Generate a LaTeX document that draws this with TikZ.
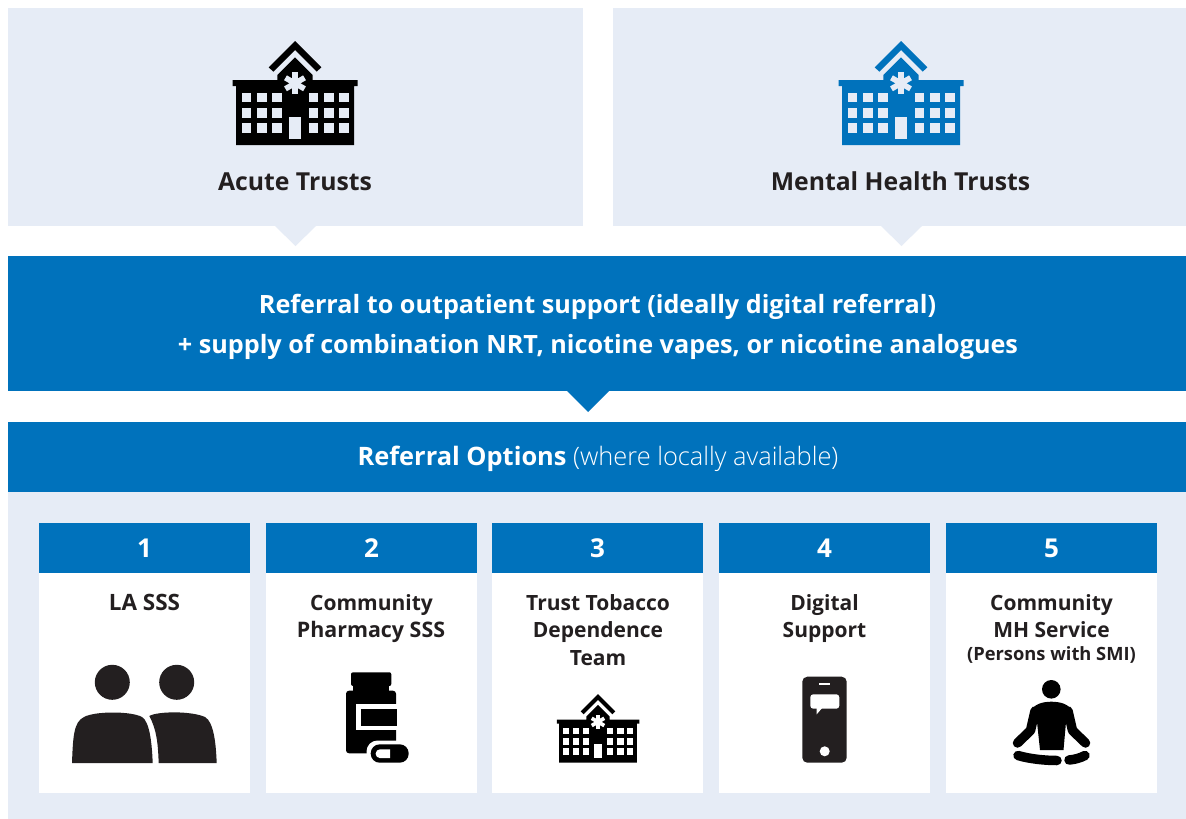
\documentclass[tikz,border=0pt]{standalone}
\usepackage{fontspec}
\setmainfont{Open Sans}
\newfontfamily\lightf{Open Sans Light}
\definecolor{lightbg}{HTML}{E6ECF6}
\definecolor{nhsblue}{HTML}{0072BC}
\definecolor{ink}{HTML}{231F20}
\tikzset{
  panel/.style={fill=#1,inner sep=0pt,outer sep=0pt,anchor=north west},
  lab/.style={anchor=base,inner sep=0pt,text=ink,font=\bfseries\fontsize{#1}{#1}\selectfont},
  wlab/.style={anchor=base,inner sep=0pt,text=white,font=\bfseries\fontsize{#1}{#1}\selectfont},
  pics/hospital/.style 2 args={code={
    \fill[#1] (0,0)--(-26.3,26.3)--(-21.7,30.7)--(0,9)--(21.7,30.7)--(26.3,26.3)--cycle;
    \fill[#1] (0,16.3)--(-17.7,34)--(-17.7,39)--(-62.3,39)--(-62.3,45)--(-59,45)--(-59,104)--(59,104)--(59,45)--(62.5,45)--(62.5,39)--(17.7,39)--(17.7,34)--cycle;
    \foreach \a in {0,60,120}{\fill[#2,rotate around={\a:(0,42.3)}] (-2.8,31.3) rectangle (2.8,53.3);}
    \foreach \xa in {-53,-37.7,-22.7,14,29.3,44.3}{
      \foreach \ya in {51.7,67,82.3}{\fill[#2] (\xa,\ya) rectangle +(9.4,9.6);}}
    \fill[#2] (-5.7,76.3) rectangle (6.3,97.7);
  }}
}
\begin{document}
\begin{tikzpicture}[x=1pt,y=-1pt]
\useasboundingbox (0,0) rectangle (1186,819);
\fill[white] (0,0) rectangle (1186,819);
% top panels
\node[panel=lightbg,minimum width=575pt,minimum height=218pt] (acute) at (8,8) {};
\node[panel=lightbg,minimum width=573pt,minimum height=218pt] (mh) at (613,8) {};
\fill[lightbg] (275,226)--(316,226)--(295.5,246)--cycle;
\fill[lightbg] (881,226)--(922,226)--(901.5,246)--cycle;
\pic at (295,41) {hospital={black}{lightbg}};
\pic at (901,41) {hospital={nhsblue}{lightbg}};
\node[lab=24.75] (acutet) at (295,190) {Acute Trusts};
\node[lab=24.75] (mht) at (900.5,190) {Mental Health Trusts};
% blue band
\node[panel=nhsblue,minimum width=1178pt,minimum height=135pt] (band) at (8,256) {};
\fill[nhsblue] (567,391)--(609,391)--(588,412)--cycle;
\node[wlab=25.2] (l1) at (597.5,313) {Referral to outpatient support (ideally digital referral)};
\node[wlab=25.2] (l2) at (598,353) {+ supply of combination NRT, nicotine vapes, or nicotine analogues};
% options
\node[panel=lightbg,minimum width=1178pt,minimum height=327pt] (opts) at (8,492) {};
\node[panel=nhsblue,minimum width=1178pt,minimum height=70pt] (opth) at (8,422) {};
\node[anchor=base,inner sep=0pt,text=white,font=\fontsize{25.4}{26}\selectfont] (optt) at (598,465) {\textbf{Referral Options} {\lightf (where locally available)}};
% columns
\foreach \n/\x/\t in {1/39/144.5,2/266/371.5,3/492/597.5,4/719/824.5,5/946/1051.5}{
  \node[panel=white,minimum width=211pt,minimum height=270pt] (card\n) at (\x,523) {};
  \node[panel=nhsblue,minimum width=211pt,minimum height=50pt] (head\n) at (\x,523) {};
  \node[wlab=26] (num\n) at (\t,557) {\n};
}
\node[lab=22.5] (t1) at (144.5,610) {LA SSS};
\node[lab=21] (t2a) at (371.5,610) {Community};
\node[lab=21.4] (t2b) at (371,637) {Pharmacy SSS};
\node[lab=21] (t3a) at (598,610) {Trust Tobacco};
\node[lab=21] (t3b) at (598,637) {Dependence};
\node[lab=21] (t3c) at (598,665) {Team};
\node[lab=21] (t4a) at (824.5,610) {Digital};
\node[lab=21] (t4b) at (824.5,637) {Support};
\node[lab=21] (t5a) at (1051.5,610) {Community};
\node[lab=21] (t5b) at (1051.5,637) {MH Service};
\node[lab=18.3] (t5c) at (1051.5,660) {(Persons with SMI)};
% people
\fill[ink] (112.3,682.3) circle (17.5) (176.7,682.3) circle (17.5);
\fill[ink] (72,763) .. controls (73,735) and (74,722) .. (84,717) .. controls (95,711) and (131,711) .. (142,717) .. controls (150,722) and (152,745) .. (152.7,763) -- cycle;
\fill[ink] (149.3,716) .. controls (158,711) and (192,711) .. (205,717) .. controls (214,722) and (216,745) .. (216.7,763) -- (158.7,763) .. controls (158,745) and (157,730) .. (149.3,716) -- cycle;
% bottle
\fill[black,rounded corners=2pt] (351,672.3) rectangle (391.3,686);
\fill[black] (353,684) rectangle (388.5,692);
\fill[black,rounded corners=3pt] (346,690.7) rectangle (396,753.3);
\fill[white] (355.7,704) rectangle (396.5,730);
\fill[black] (360.7,709) rectangle (396.5,726);
\fill[white,rounded corners=11pt] (366.5,740.5) rectangle (412,766);
\fill[black,rounded corners=9pt] (370.7,744.3) rectangle (408.7,762.7);
\fill[white] (380,749.3) arc[start angle=-90,end angle=-270,radius=4.4] -- (390,758.1) -- (390,749.3) -- cycle;
% phone
\fill[ink,rounded corners=5pt] (802.3,676.7) rectangle (846.7,762.7);
\fill[white] (819.3,683) rectangle (830,685.3);
\fill[white,rounded corners=3pt] (810.3,694.3) rectangle (839.3,708.7);
\fill[white] (816.5,707)--(816.7,714.3)--(823,707)--cycle;
\fill[white] (824.7,751.3) circle (5);
% meditator
\fill[black] (1051.3,689.3) circle (9.3);
\fill[black] (1040,750) -- (1063.5,750) -- (1066,722) -- (1072,712) .. controls (1070,704) and (1060,701.7) .. (1051.3,701.7) .. controls (1043,701.7) and (1033,704) .. (1031,712) -- (1037,722) -- cycle;
\draw[black,line width=9.5pt,line cap=round,line join=round] (1035,711) -- (1030.5,730.5) -- (1017.5,743);
\draw[black,line width=9.5pt,line cap=round,line join=round] (1068,711) -- (1072.5,730.5) -- (1085.5,743);
\draw[black,line width=9.5pt,line cap=round] (1018,755.5) .. controls (1030,759) and (1045,760.5) .. (1057,760.5);
\draw[black,line width=9.5pt,line cap=round] (1069,760) .. controls (1075,759.5) and (1080,758) .. (1085,755.5);
% small hospital
\pic[scale=0.66] at (598,694) {hospital={black}{white}};
\end{tikzpicture}
\end{document}
